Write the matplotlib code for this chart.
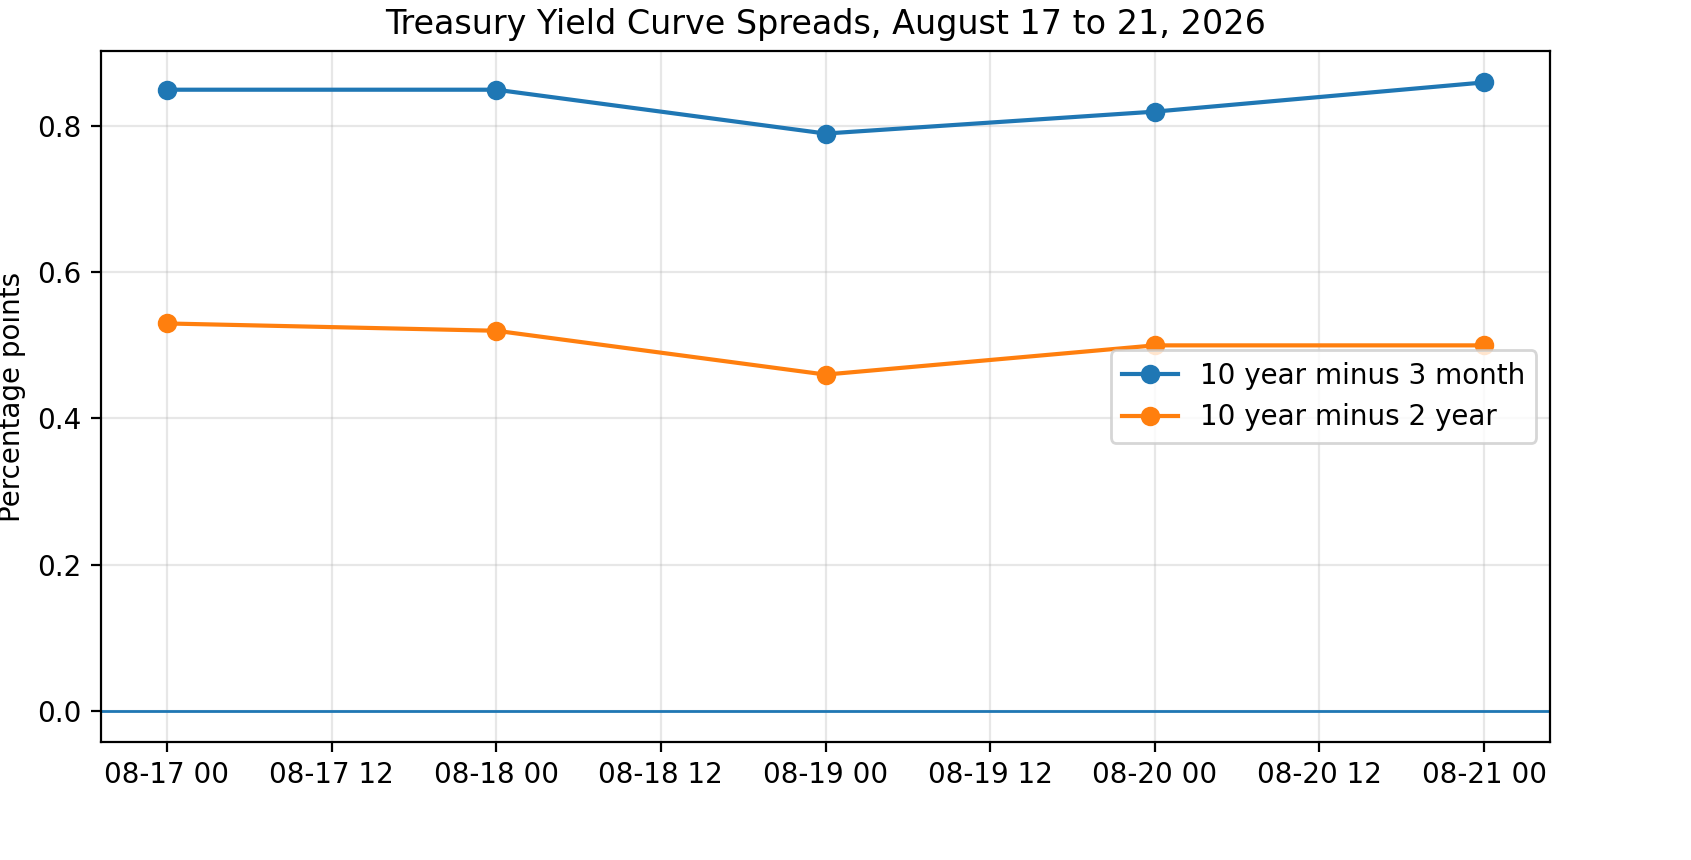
import matplotlib
matplotlib.use("Agg")
import matplotlib.pyplot as plt
import matplotlib.dates as mdates
import pandas as pd

dates = ["2026-08-17", "2026-08-18", "2026-08-19", "2026-08-20", "2026-08-21"]
spread_10y_3m = [0.85, 0.85, 0.79, 0.82, 0.86]
spread_10y_2y = [0.53, 0.52, 0.46, 0.50, 0.50]

x = pd.to_datetime(dates)
W, H, DPI = 1691, 860, 200
fig, ax = plt.subplots(figsize=(W / DPI, H / DPI), dpi=DPI)
fig.subplots_adjust(left=101 / W, right=1550 / W, top=1 - 51 / H, bottom=1 - 742 / H)

ax.plot(x, spread_10y_3m, marker="o", label="10 year minus 3 month")
ax.plot(x, spread_10y_2y, marker="o", label="10 year minus 2 year")
ax.axhline(0, linewidth=1)
ax.set_title("Treasury Yield Curve Spreads, August 17 to 21, 2026")
ax.set_ylabel("Percentage points")
ax.grid(True, alpha=0.3)
ax.xaxis.set_major_formatter(mdates.DateFormatter("%m-%d %H"))
ax.legend(loc="center right")
fig.savefig("out.png", dpi=DPI)
